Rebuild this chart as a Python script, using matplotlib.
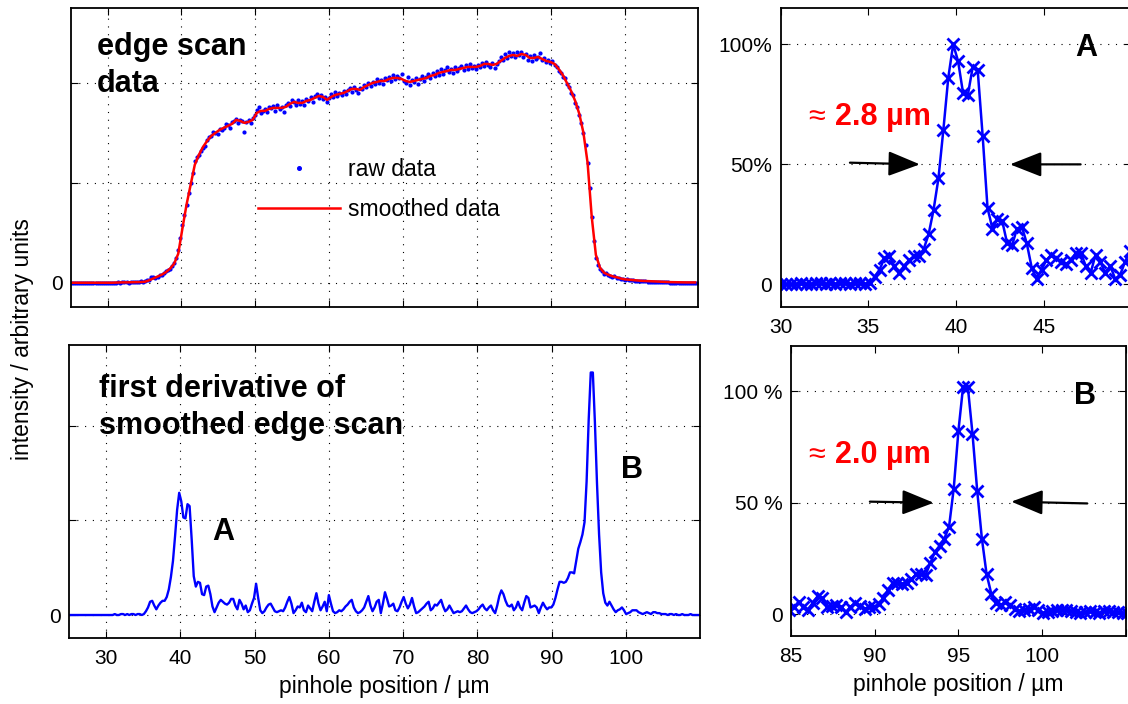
import numpy as np
import matplotlib
matplotlib.use('Agg')
import matplotlib.pyplot as plt

plt.rcParams['font.family'] = ['Liberation Sans', 'DejaVu Sans']

# pinhole scan: start position and step (um)
x_start = 25.0
x_step = 0.28

# raw edge scan (arb. units, one value per pinhole step)
raw_data = [
    0, 0, 0, 0, 0, 0, 0, 0, 0, 0, 0, 0, 0, 0, 0, 0, 0, 0,
    0, 0, 0, 0, 0, 1, 0, 1, 1, 1, 0, 1, 1, 1, 1, 1, 2, 1,
    2, 3, 3, 6, 6, 5, 6, 8, 8, 10,
    12, 13, 14, 17, 20, 25, 33, 45, 58, 68,
    78, 90, 100, 110, 122, 126, 128, 132, 135, 137,
    143, 146, 147, 151, 150, 149, 154, 153, 155, 159,
    158, 155, 161, 162, 164, 160, 163, 162, 151, 161,
    163, 160, 165, 168, 173, 176, 170, 172, 174, 171,
    176, 175, 177, 172, 178, 174, 176, 171, 178, 180,
    177, 183, 181, 178, 183, 179, 182, 178, 184, 182,
    186, 181, 187, 189, 185, 188, 184, 186, 181, 185,
    189, 186, 191, 187, 190, 188, 192, 189, 193, 195,
    191, 196, 193, 190, 195, 194, 198, 196, 200, 197,
    201, 199, 204, 200, 203, 199, 205, 203, 206, 202,
    208, 204, 207, 205, 209, 202, 200, 206, 198, 203,
    201, 205, 199, 204, 207, 202, 206, 209, 205, 210,
    207, 212, 208, 214, 209, 213, 216, 211, 214, 210,
    216, 212, 215, 217, 213, 218, 214, 219, 215, 217,
    214, 218, 216, 220, 217, 221, 218, 216, 220, 215,
    219, 222, 226, 223, 229, 225, 231, 227, 230, 226,
    231, 228, 231, 226, 229, 223, 227, 222, 228, 224,
    226, 230, 223, 225, 221, 223, 220, 222, 218, 216,
    212, 210, 206, 205, 199, 196, 190, 188, 180, 176,
    168, 160, 150, 138, 120, 95, 66, 42, 25, 18,
    14, 12, 9, 10, 8, 7, 6, 7, 5, 5,
    4, 4, 3, 4, 3, 3, 3, 2, 2, 2,
    2, 2, 2, 1, 1, 1, 1, 1, 1, 1,
    1, 1, 1, 1, 0, 0, 0, 0, 0, 0,
    0, 0, 0, 0, 0, 0, 0, 0,
]

# smoothed edge scan, every second pinhole step
smoothed_data = [
    0, 0, 0, 0, 0, 0, 0, 0, 0, 0,
    0, 0.2, 0.3, 0.3, 0.4, 0.5, 0.6, 0.7, 1, 2.5,
    4.3, 6, 8, 10.5, 14, 19, 29, 54, 78, 98,
    118, 128, 136, 142, 147, 150, 153, 155, 157, 159,
    163, 162, 160, 161, 163, 170, 172, 172, 174, 175,
    175, 175, 176, 179, 181, 180, 180, 182, 183, 185,
    187, 186, 183, 186, 188, 189, 190, 192, 194, 194,
    193, 196, 198, 200, 201, 202, 202, 204, 205, 205,
    204, 202, 201, 202, 203, 204, 205, 207, 208, 210,
    211, 212, 213, 213, 214, 215, 216, 216, 216, 217,
    219, 219, 218, 219, 222, 225, 227, 228, 227, 229,
    228, 225, 225, 226, 224, 222, 221, 219, 214, 208,
    200, 192, 182, 169, 150, 120, 66, 28, 15, 10,
    8, 6.5, 5.5, 4.2, 3.4, 3, 2.6, 2.2, 1.9, 1.7,
    1.4, 1.2, 1, 0.8, 0.7, 0.6, 0.5, 0.4, 0.4, 0.3,
    0.3, 0.3,
]

# first derivative of the smoothed scan (arb. units)
derivative = [
    0, 0, 0, 0, 0, 0, 0, 0, 0, 0, 0, 0, 0, 0, 0, 0, 0, 0,
    0, 0, 0, 0, 1, 0, 0, 1, 1, 0, 1, 0, 1, 1, 0, 1, 1, 0,
    1, 4, 8, 14, 15, 10, 6, 10, 13, 15,
    15, 19, 27, 40, 57, 83, 111, 129, 120, 103,
    102, 117, 115, 80, 41, 30, 35, 34, 22, 21,
    30, 31, 22, 9, 3, 8, 13, 16, 14, 12,
    11, 13, 17, 17, 10, 6, 16, 12, 6, 10,
    3, 5, 12, 18, 33, 18, 5, 2, 4, 8,
    11, 12, 8, 4, 3, 4, 5, 4, 8, 14,
    19, 12, 2, 5, 9, 8, 13, 5, 3, 10,
    7, 4, 14, 23, 12, 5, 9, 14, 4, 21,
    12, 4, 2, 3, 5, 4, 6, 9, 11, 14,
    16, 8, 4, 2, 3, 5, 8, 14, 20, 10,
    4, 8, 14, 16, 2, 12, 24, 17, 9, 10,
    12, 5, 4, 8, 14, 19, 12, 7, 11, 18,
    9, 2, 3, 5, 7, 9, 12, 14, 5, 7,
    11, 10, 13, 16, 9, 4, 6, 10, 6, 2,
    3, 4, 3, 4, 7, 10, 6, 3, 2, 3,
    4, 6, 9, 11, 7, 5, 8, 10, 5, 2,
    10, 20, 26, 22, 15, 10, 9, 11, 5, 8,
    14, 8, 5, 13, 20, 18, 8, 9, 10, 8,
    2, 8, 13, 9, 6, 8, 8, 11, 18, 27,
    35, 35, 34, 35, 39, 45, 45, 44, 57, 70,
    77, 85, 98, 141, 206, 256, 256, 203, 139, 85,
    45, 23, 13, 10, 14, 10, 6, 3, 5, 6,
    8, 5, 1, 2, 3, 5, 5, 5, 3, 2,
    1, 2, 3, 2, 1, 3, 3, 2, 2, 1,
    1, 1, 0, 1, 1, 0, 1, 0, 0, 1,
    0, 0, 0, 1, 0, 0, 0, 0,
]

# 100 % reference for the two edge profiles
norm_A = 129.0
norm_B = 251.0

assert len(raw_data) == len(derivative) == 2 * len(smoothed_data)

x = x_start + x_step * np.arange(len(raw_data))
x_s = x_start + 2 * x_step * np.arange(len(smoothed_data))
raw = np.array(raw_data, dtype=float)
smooth = np.array(smoothed_data, dtype=float)
deriv = np.array(derivative, dtype=float)

TICK_FS = 15
LAB_FS = 16.5
BIG = 22
dotgrid = (0, (1, 6))


def style(ax, xgrid=True):
    ax.tick_params(direction='in', length=5, width=0.8, top=True, right=True,
                   labelsize=TICK_FS)
    ax.tick_params(axis='x', pad=8)
    ax.tick_params(axis='y', pad=6)
    for s in ax.spines.values():
        s.set_linewidth(1.3)
    ax.grid(True, axis='both' if xgrid else 'y', color='k',
            linestyle=dotgrid, linewidth=0.8)
    ax.set_axisbelow(True)


fig = plt.figure(figsize=(11.28, 7.04), dpi=100)
ax1 = fig.add_axes([0.0627, 0.5635, 0.5564, 0.4247])
ax2 = fig.add_axes([0.0612, 0.0933, 0.5594, 0.4166])
axA = fig.add_axes([0.6921, 0.5643, 0.3108, 0.4239])
axB = fig.add_axes([0.7010, 0.0970, 0.2973, 0.4119])

# edge scan
ax1.plot(x, raw, '.', color='b', ms=4, label='raw data')
ax1.plot(x_s, smooth, '-', color='r', lw=1.8, label='smoothed data')
ax1.set_xlim(25, 110)
ax1.set_ylim(-24.6, 274.7)
ax1.set_xticks(range(30, 101, 10))
ax1.set_xticklabels([])
ax1.set_yticks([0, 100, 200])
ax1.set_yticklabels(['0', '', ''])
style(ax1)
ax1.text(28.55, 227.7, 'edge scan', fontsize=BIG, fontweight='bold')
ax1.text(28.55, 190.7, 'data', fontsize=BIG, fontweight='bold')
ax1.legend(loc='upper left', bbox_to_anchor=(258 / 1128, 1 - 158.5 / 704),
           bbox_transform=fig.transFigure, frameon=False, fontsize=LAB_FS,
           handlelength=3.58, handletextpad=0.35, labelspacing=0.73,
           borderpad=0, borderaxespad=0, numpoints=1, markerscale=1.3)

# derivative
ax2.plot(x, deriv, '-', color='b', lw=1.7)
ax2.set_xlim(25, 110)
ax2.set_ylim(-24.6, 285)
ax2.set_xticks(range(30, 101, 10))
ax2.set_yticks([0, 100, 200])
ax2.set_yticklabels(['0', '', ''])
style(ax2)
ax2.set_xlabel('pinhole position / µm', fontsize=LAB_FS, labelpad=5)
ax2.text(29.1, 230.5, 'first derivative of', fontsize=BIG, fontweight='bold')
ax2.text(29.1, 191.0, 'smoothed edge scan', fontsize=BIG, fontweight='bold')
ax2.text(44.35, 79, 'A', fontsize=BIG, fontweight='bold')
ax2.text(99.36, 145, 'B', fontsize=BIG, fontweight='bold')

fig.text(0.02, 0.5185, 'intensity / arbitrary units', rotation=90,
         ha='center', va='center', fontsize=LAB_FS)

arrow = dict(arrowstyle='-|>,head_length=1.4,head_width=0.55', color='k',
             lw=1.6, mutation_scale=14, shrinkA=0, shrinkB=0)

# edge A
axA.plot(x, deriv / norm_A * 100, '-x', color='b', lw=1.8, ms=9, mew=2)
axA.set_xlim(30, 50)
axA.set_ylim(-9.3, 115)
axA.set_xticks([30, 35, 40, 45, 50])
axA.set_xticklabels(['30', '35', '40', '45', ''])
axA.set_yticks([0, 50, 100])
axA.set_yticklabels(['0', '50%', '100%'])
style(axA, xgrid=False)
axA.text(46.79, 95.1, 'A', fontsize=BIG, fontweight='bold')
axA.text(31.56, 66.4, '≈', fontsize=BIG, color='r')
axA.text(33.1, 66.4, '2.8 µm', fontsize=BIG, fontweight='bold', color='r')
axA.annotate('', xy=(37.94, 50), xytext=(33.95, 50.7), arrowprops=arrow)
axA.annotate('', xy=(43.08, 50), xytext=(47.11, 50), arrowprops=arrow)

# edge B
axB.plot(x, deriv / norm_B * 100, '-x', color='b', lw=1.8, ms=9, mew=2)
axB.set_xlim(85, 105)
axB.set_ylim(-9.7, 120.3)
axB.set_xticks([85, 90, 95, 100, 105])
axB.set_xticklabels(['85', '90', '95', '100', ''])
axB.set_yticks([0, 50, 100])
axB.set_yticklabels(['0', '50 %', '100 %'])
style(axB, xgrid=False)
axB.set_xlabel('pinhole position / µm', fontsize=LAB_FS, labelpad=5)
axB.text(101.9, 94.2, 'B', fontsize=BIG, fontweight='bold')
axB.text(86.03, 67.7, '≈', fontsize=BIG, color='r')
axB.text(87.64, 67.7, '2.0 µm', fontsize=BIG, fontweight='bold', color='r')
axB.annotate('', xy=(93.53, 49.9), xytext=(89.72, 50.4), arrowprops=arrow)
axB.annotate('', xy=(98.15, 50.4), xytext=(102.68, 49.6), arrowprops=arrow)

fig.savefig('out.png', dpi=100)
